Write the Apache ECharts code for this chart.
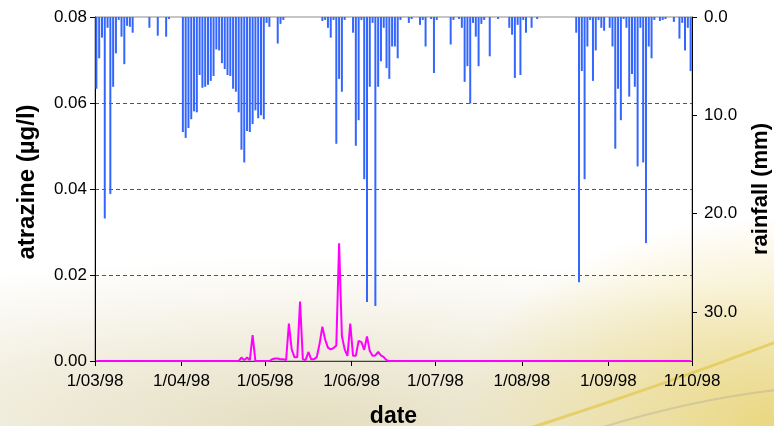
<!DOCTYPE html>
<html><head><meta charset="utf-8">
<script src="https://cdn.jsdelivr.net/npm/echarts@6/dist/echarts.min.js"></script>
<style>
html,body{margin:0;padding:0;width:774px;height:426px;overflow:hidden;}
body{background:
 radial-gradient(ellipse 320px 210px at 774px 426px, rgba(232,210,110,0.85), rgba(232,210,110,0) 100%),
 radial-gradient(ellipse 700px 170px at 40% 100%, rgba(226,218,185,0.9), rgba(226,218,185,0) 100%),
 #ffffff;}
#c{width:774px;height:426px;}
</style></head><body><div id="c"></div>
<script>
const monthTicks = [0, 31, 61, 92, 122, 153, 184, 214];
const monthLabels = ['1/03/98','1/04/98','1/05/98','1/06/98','1/07/98','1/08/98','1/09/98','1/10/98'];
const rainTicks = [0, 10, 20, 30];
// daily rainfall (mm), 1 March 1998 .. 30 September 1998
const rainfall = [
 7.3, 4.2, 2.1, 20.5, 1.1, 18.0, 7.1, 3.7, 0.3, 2.0,
 4.8, 0.9, 1.0, 1.6, 0, 0, 0, 0, 0, 1.1,
 0, 0, 1.9, 0, 0, 2.0, 0.2, 0, 0, 0,
 0, 11.7, 12.3, 11.3, 10.4, 9.6, 9.7, 5.9, 7.2, 7.1,
 6.9, 6.5, 6.0, 3.3, 3.4, 4.7, 5.3, 5.9, 6.0, 7.3,
 7.6, 9.7, 13.5, 14.8, 11.6, 11.7, 10.9, 9.5, 10.3, 10.0,
 10.4, 0.6, 1.0, 0, 0, 2.7, 0.7, 0.3, 0, 0,
 0, 0, 0, 0, 0, 0, 0, 0, 0, 0,
 0, 0.4, 0.3, 1.1, 2.1, 0.3, 12.9, 6.3, 7.6, 0.3,
 0, 0, 1.6, 13.1, 10.5, 0.3, 16.5, 29.0, 7.1, 0.6,
 29.4, 7.1, 4.5, 1.1, 5.2, 6.3, 3.0, 3.0, 4.2, 0.3,
 0, 0, 0.6, 0.2, 0, 0, 0.8, 0.3, 3.0, 0,
 0.2, 5.7, 0.3, 0, 0, 0, 0, 2.8, 0.3, 0,
 0.2, 1.1, 6.6, 5.0, 8.8, 0.6, 2.0, 5.0, 0.7, 0.3,
 0, 4.0, 0, 0, 0.2, 0, 0, 0, 1.1, 1.8,
 6.2, 0.8, 5.9, 0.3, 1.6, 0, 1.1, 0, 0.2, 0,
 0, 0, 0, 0, 0, 0, 0, 0, 0, 0,
 0, 0, 1.6, 27.0, 5.5, 16.5, 3.0, 0.3, 6.5, 3.4,
 0.3, 1.1, 1.4, 0, 1.1, 3.0, 13.4, 7.3, 10.5, 0.2,
 1.1, 8.1, 5.8, 7.1, 15.2, 1.1, 14.8, 23.0, 3.0, 4.2,
 0.3, 0, 0.4, 0.3, 0.2, 0, 0, 0.5, 0, 2.2,
 0.6, 3.4, 1.1, 5.5
];
// daily atrazine (µg/l), same days
const atrazine = [
 0, 0, 0, 0, 0, 0, 0, 0, 0, 0,
 0, 0, 0, 0, 0, 0, 0, 0, 0, 0,
 0, 0, 0, 0, 0, 0, 0, 0, 0, 0,
 0, 0, 0, 0, 0, 0, 0, 0, 0, 0,
 0, 0, 0, 0, 0, 0, 0, 0, 0, 0,
 0, 0, 0.0008, 0.0002, 0.0008, 0.0002, 0.0060, 0, 0, 0,
 0, 0, 0, 0.0004, 0.0006, 0.0006, 0.0004, 0.0004, 0.0002, 0.0087,
 0.0027, 0.0009, 0.0009, 0.0138, 0.0004, 0.0002, 0.0021, 0.0004, 0.0004, 0.0009,
 0.0040, 0.0080, 0.0050, 0.0031, 0.0027, 0.0030, 0.0036, 0.0274, 0.0058, 0.0027,
 0.0012, 0.0087, 0.0012, 0.0012, 0.0047, 0.0044, 0.0026, 0.0057, 0.0023, 0.0012,
 0.0013, 0.0021, 0.0013, 0.0009, 0.0002, 0, 0, 0, 0, 0,
 0, 0, 0, 0, 0, 0, 0, 0, 0, 0,
 0, 0, 0, 0, 0, 0, 0, 0, 0, 0,
 0, 0, 0, 0, 0, 0, 0, 0, 0, 0,
 0, 0, 0, 0, 0, 0, 0, 0, 0, 0,
 0, 0, 0, 0, 0, 0, 0, 0, 0, 0,
 0, 0, 0, 0, 0, 0, 0, 0, 0, 0,
 0, 0, 0, 0, 0, 0, 0, 0, 0, 0,
 0, 0, 0, 0, 0, 0, 0, 0, 0, 0,
 0, 0, 0, 0, 0, 0, 0, 0, 0, 0,
 0, 0, 0, 0, 0, 0, 0, 0, 0, 0,
 0, 0, 0, 0
];
const FONT = "'Liberation Sans', Arial, sans-serif";
const rainData = rainfall.map((v, i) => [i + 0.5, v]);
const atrData = atrazine.map((v, i) => [i + 0.5, v]);
const chart = echarts.init(document.getElementById('c'), null, {renderer: 'canvas'});
chart.setOption({
  backgroundColor: 'transparent',
  animation: false,
  grid: {left: 95, right: 82, top: 17, bottom: 65, outerBoundsMode: 'none', containLabel: false,
         show: true, borderColor: '#8c8c8c', borderWidth: 1, backgroundColor: 'transparent'},
  graphic: [
    {type: 'bezierCurve', silent: true, z: -10,
     shape: {x1: 530, y1: 428, cpx1: 655, cpy1: 388, x2: 776, y2: 342},
     style: {stroke: 'rgba(225,200,80,0.75)', lineWidth: 3, fill: null}},
    {type: 'bezierCurve', silent: true, z: -10,
     shape: {x1: 600, y1: 428, cpx1: 690, cpy1: 400, x2: 776, y2: 390},
     style: {stroke: 'rgba(185,180,150,0.5)', lineWidth: 2, fill: null}}
  ],
  xAxis: {
    type: 'value', min: 0, max: 214,
    name: 'date', nameLocation: 'middle', nameGap: 44,
    nameTextStyle: {fontFamily: FONT, fontSize: 23, fontWeight: 'bold', color: '#000'},
    axisLine: {show: true, lineStyle: {color: '#404040', width: 1}},
    axisTick: {show: true, customValues: monthTicks, length: 5, lineStyle: {color: '#000'}},
    axisLabel: {customValues: monthTicks, formatter: v => { const k = monthTicks.indexOf(v); return k >= 0 ? monthLabels[k] : ''; },
      fontFamily: FONT, fontSize: 17, color: '#000', margin: 12},
    splitLine: {show: false}
  },
  yAxis: [
    {
      type: 'value', min: 0, max: 0.08, interval: 0.02, position: 'left',
      name: 'atrazine (µg/l)', nameLocation: 'middle', nameRotate: 90, nameGap: 56,
      nameTextStyle: {fontFamily: FONT, fontSize: 24, fontWeight: 'bold', color: '#000', padding: [0, 0, 0, 14]},
      axisLine: {show: true, lineStyle: {color: '#000', width: 1}},
      axisTick: {show: true, length: 5, lineStyle: {color: '#000'}},
      axisLabel: {formatter: v => v.toFixed(2), fontFamily: FONT, fontSize: 17, color: '#000', margin: 8},
      splitLine: {show: true, showMinLine: false, showMaxLine: false, lineStyle: {color: '#555', type: [4, 3], width: 1}}
    },
    {
      type: 'value', min: 0, max: 35, inverse: true, position: 'right',
      name: 'rainfall (mm)', nameLocation: 'middle', nameRotate: 90, nameGap: 58,
      nameTextStyle: {fontFamily: FONT, fontSize: 22, fontWeight: 'bold', color: '#000'},
      axisLine: {show: true, lineStyle: {color: '#000', width: 1}},
      axisTick: {show: true, customValues: rainTicks, length: 5, lineStyle: {color: '#000'}},
      axisLabel: {customValues: rainTicks, formatter: v => v.toFixed(1), fontFamily: FONT, fontSize: 17, color: '#000', margin: 12},
      splitLine: {show: false}
    }
  ],
  series: [
    {type: 'bar', yAxisIndex: 1, data: rainData, barWidth: 2, itemStyle: {color: '#3366ff'}, z: 2},
    {type: 'line', yAxisIndex: 0, data: atrData, showSymbol: false, symbol: 'none',
     lineStyle: {color: '#ff00ff', width: 2}, z: 3}
  ]
});
</script>
</body></html>
